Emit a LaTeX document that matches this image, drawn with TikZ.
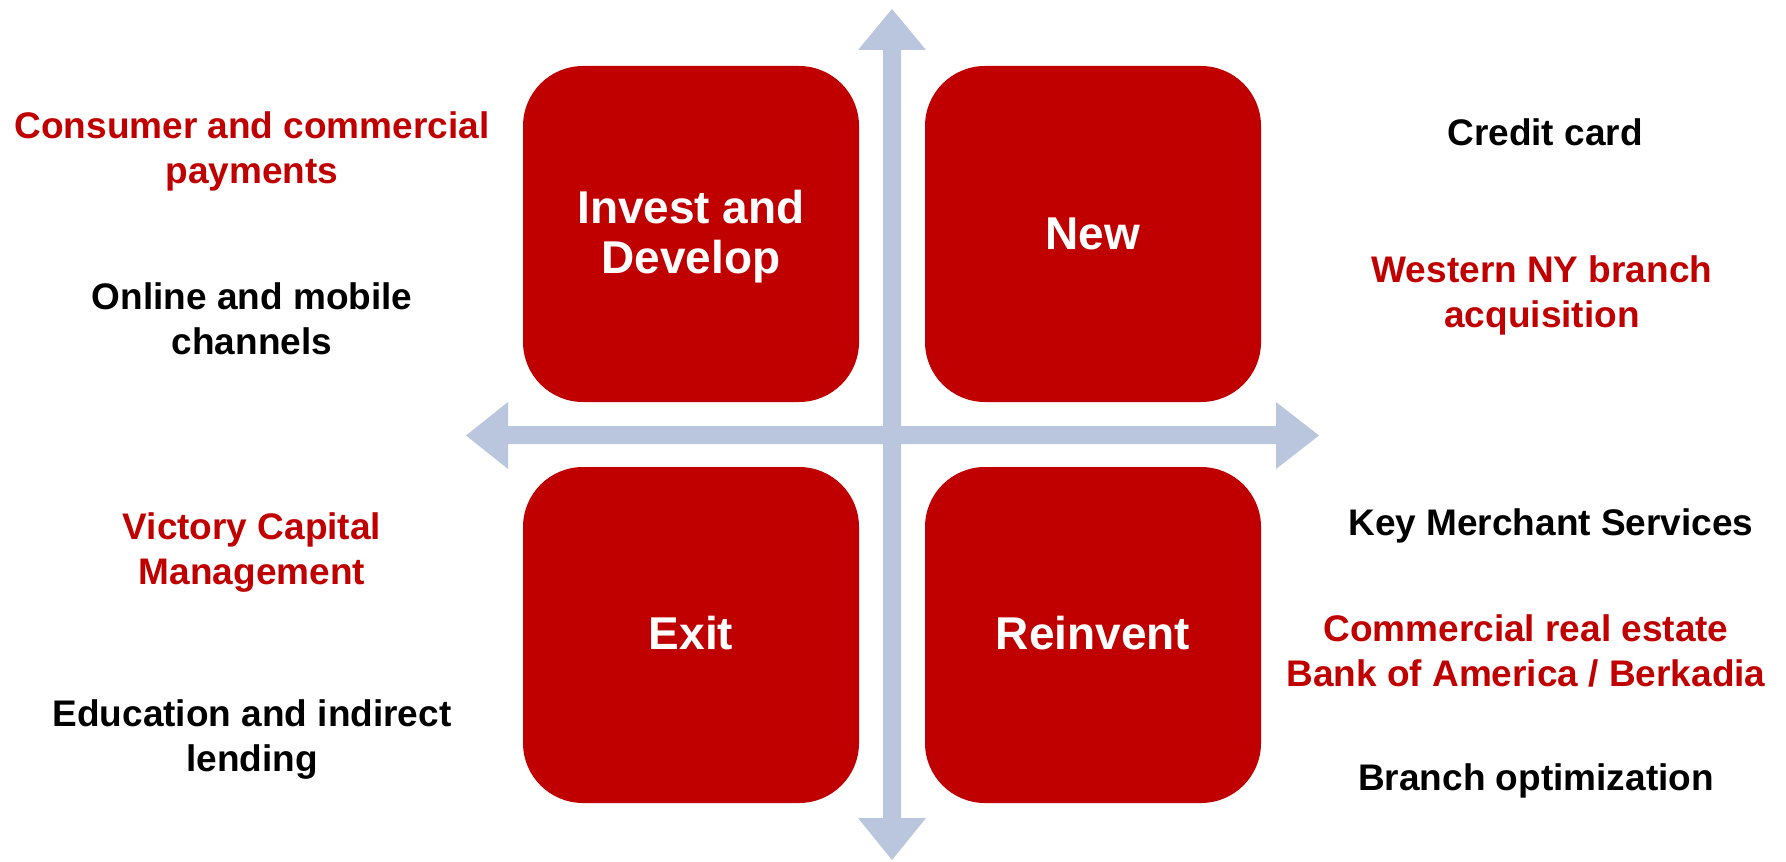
\documentclass[tikz,border=0pt]{standalone}
\usepackage{fontspec}
\setmainfont{Liberation Sans}
\definecolor{keyred}{RGB}{192,0,0}
\definecolor{axisblue}{RGB}{185,198,222}
\begin{document}
\begin{tikzpicture}[x=0.5pt,y=-0.5pt,
  quad/.style={fill=keyred, draw=none, rounded corners=30pt},
  quadlabel/.style={text=white, font=\fontsize{23}{25}\selectfont\bfseries, align=center, inner sep=0pt},
  side/.style={font=\fontsize{18.5}{22.5}\selectfont\bfseries, align=center, inner sep=0pt},
  redside/.style={side, text=keyred},
  blackside/.style={side, text=black},
  axis/.style={fill=axisblue, draw=none}]
\useasboundingbox (0,0) rectangle (1786,861);
% axes
\fill[axis] (883,50) -- (858,50) -- (892,9) -- (926,50) -- (901,50) -- (901,818) -- (926,818) -- (892,860) -- (858,818) -- (883,818) -- cycle;
\fill[axis] (508,426) -- (508,402) -- (466,435.5) -- (508,469) -- (508,444) -- (1276,444) -- (1276,469) -- (1319,435.5) -- (1276,402) -- (1276,426) -- cycle;
% quadrants
\fill[quad] (523,66) rectangle (859,402);
\fill[quad] (925,66) rectangle (1261,402);
\fill[quad] (523,467) rectangle (859,803);
\fill[quad] (925,467) rectangle (1261,803);
\node[quadlabel] (id) at (691,237) {Invest and\\Develop};
\node[quadlabel] (new) at (1093,234) {New};
\node[quadlabel] (exit) at (691,633) {Exit};
\node[quadlabel] (reinv) at (1093,633) {Reinvent};
% side texts
\node[redside] (t1) at (252,151) {Consumer and commercial\\payments};
\node[blackside] (t2) at (252,319) {Online and mobile\\channels};
\node[blackside] (t3) at (1545,132) {Credit card};
\node[redside] (t4) at (1542,295) {Western NY branch\\acquisition};
\node[redside] (t5) at (252,553) {Victory Capital\\Management};
\node[blackside] (t6) at (252,740) {Education and indirect\\lending};
\node[blackside] (t7) at (1551,526) {Key Merchant Services};
\node[redside] (t8) at (1526,651) {Commercial real estate\\Bank of America / Berkadia};
\node[blackside] (t9) at (1536,781) {Branch optimization};
\end{tikzpicture}
\end{document}
